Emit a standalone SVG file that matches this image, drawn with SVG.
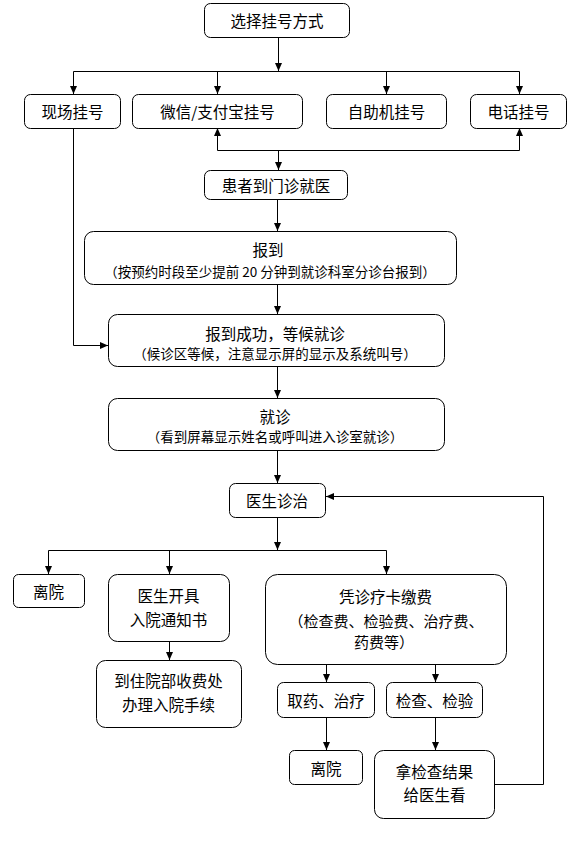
<svg xmlns="http://www.w3.org/2000/svg" width="567" height="866" viewBox="0 0 567 866">
<defs>
<marker id="arr" markerUnits="userSpaceOnUse" markerWidth="8" markerHeight="8" refX="8" refY="4" orient="auto">
<path d="M0,0.5 L8,4 L0,7.5 z" fill="#000"/>
</marker>
<style>
.box{fill:#fff;stroke:#000;stroke-width:1}
.t{font-family:"Noto Sans CJK SC","Liberation Sans",sans-serif;font-size:15.5px;fill:#000;text-anchor:middle;dominant-baseline:central}
.s{font-size:13.5px}
.m{font-size:15px}
.c{fill:none;stroke:#000;stroke-width:1}
</style>
</defs>
<rect width="567" height="866" fill="#fff"/>
<g id="connectors">
<path class="c" d="M278.5,37 V71" marker-end="url(#arr)"/>
<path class="c" d="M73.5,71.5 H519.5"/>
<path class="c" d="M73.5,71.5 V94" marker-end="url(#arr)"/>
<path class="c" d="M217.5,71.5 V94" marker-end="url(#arr)"/>
<path class="c" d="M386.5,71.5 V94" marker-end="url(#arr)"/>
<path class="c" d="M519.5,71.5 V94" marker-end="url(#arr)"/>
<path class="c" d="M217.5,150.5 H519.5"/>
<path class="c" d="M217.5,150.5 V128" marker-end="url(#arr)"/>
<path class="c" d="M519.5,150.5 V128" marker-end="url(#arr)"/>
<path class="c" d="M278.5,150.5 V170" marker-end="url(#arr)"/>
<path class="c" d="M73.5,128 V345.5 H108" marker-end="url(#arr)"/>
<path class="c" d="M277.5,199 V231" marker-end="url(#arr)"/>
<path class="c" d="M277.5,284 V314" marker-end="url(#arr)"/>
<path class="c" d="M277.5,366 V398" marker-end="url(#arr)"/>
<path class="c" d="M277.5,450 V483" marker-end="url(#arr)"/>
<path class="c" d="M277.5,517 V550" marker-end="url(#arr)"/>
<path class="c" d="M48.5,550.5 H386.5"/>
<path class="c" d="M48.5,550.5 V574" marker-end="url(#arr)"/>
<path class="c" d="M169.5,550.5 V574" marker-end="url(#arr)"/>
<path class="c" d="M386.5,550.5 V574" marker-end="url(#arr)"/>
<path class="c" d="M169.5,641 V660" marker-end="url(#arr)"/>
<path class="c" d="M326.5,664 V682" marker-end="url(#arr)"/>
<path class="c" d="M435.5,664 V682" marker-end="url(#arr)"/>
<path class="c" d="M326.5,717 V750" marker-end="url(#arr)"/>
<path class="c" d="M435.5,717 V750" marker-end="url(#arr)"/>
<path class="c" d="M494.5,784.5 H543.5 V496.5 H326" marker-end="url(#arr)"/>
</g>
<g id="n1"><rect class="box" x="204.5" y="3.5" width="145" height="34" rx="6"/><text class="t" x="277" y="20">选择挂号方式</text></g>
<g id="n2"><rect class="box" x="24.5" y="94.5" width="96" height="34" rx="6"/><text class="t" x="72.5" y="111">现场挂号</text></g>
<g id="n3"><rect class="box" x="132.5" y="94.5" width="170" height="34" rx="6"/><text class="t" x="217.5" y="111">微信/支付宝挂号</text></g>
<g id="n4"><rect class="box" x="326.5" y="94.5" width="120" height="34" rx="6"/><text class="t" x="386.5" y="111">自助机挂号</text></g>
<g id="n5"><rect class="box" x="470.5" y="94.5" width="96" height="34" rx="6"/><text class="t" x="518.5" y="111">电话挂号</text></g>
<g id="n6"><rect class="box" x="204.5" y="170.5" width="143" height="29" rx="6"/><text class="t" x="276" y="185">患者到门诊就医</text></g>
<g id="n7"><rect class="box" x="84.5" y="231.5" width="372" height="53" rx="9"/><text class="t" x="268" y="249">报到</text><text class="t s" x="270" y="271">（按预约时段至少提前 20 分钟到就诊科室分诊台报到）</text></g>
<g id="n8"><rect class="box" x="108.5" y="314.5" width="336" height="52" rx="9"/><text class="t" x="275" y="333">报到成功，等候就诊</text><text class="t s" x="275" y="353">（候诊区等候，注意显示屏的显示及系统叫号）</text></g>
<g id="n9"><rect class="box" x="108.5" y="398.5" width="336" height="52" rx="9"/><text class="t" x="275" y="416">就诊</text><text class="t s" x="275" y="436">（看到屏幕显示姓名或呼叫进入诊室就诊）</text></g>
<g id="n10"><rect class="box" x="229.5" y="483.5" width="96" height="34" rx="6"/><text class="t" x="277" y="500">医生诊治</text></g>
<g id="n11"><rect class="box" x="13.5" y="574.5" width="71" height="33" rx="5"/><text class="t" x="48.5" y="591">离院</text></g>
<g id="n12"><rect class="box" x="108.5" y="574.5" width="121" height="67" rx="9"/><text class="t" x="168.5" y="594.5">医生开具</text><text class="t" x="168.5" y="619">入院通知书</text></g>
<g id="n13"><rect class="box" x="265.5" y="574.5" width="241" height="90" rx="12"/><text class="t" x="385.5" y="596">凭诊疗卡缴费</text><text class="t m" x="386" y="620">（检查费、检验费、治疗费、</text><text class="t m" x="384" y="641">药费等）</text></g>
<g id="n14"><rect class="box" x="96.5" y="660.5" width="145" height="67" rx="9"/><text class="t" x="168.5" y="680">到住院部收费处</text><text class="t" x="168.5" y="704">办理入院手续</text></g>
<g id="n15"><rect class="box" x="277.5" y="682.5" width="97" height="35" rx="6"/><text class="t" x="326" y="700">取药、治疗</text></g>
<g id="n16"><rect class="box" x="386.5" y="682.5" width="96" height="35" rx="6"/><text class="t" x="434.5" y="700">检查、检验</text></g>
<g id="n17"><rect class="box" x="289.5" y="750.5" width="73" height="34" rx="5"/><text class="t" x="326" y="768">离院</text></g>
<g id="n18"><rect class="box" x="374.5" y="750.5" width="120" height="68" rx="9"/><text class="t" x="434.5" y="771">拿检查结果</text><text class="t" x="434.5" y="794">给医生看</text></g>
</svg>
